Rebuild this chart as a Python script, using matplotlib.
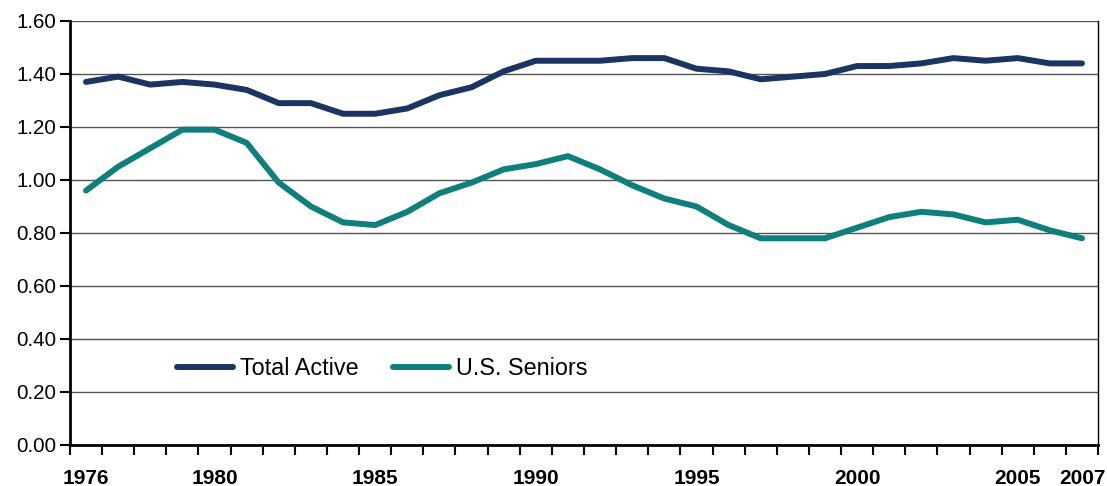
import matplotlib.pyplot as plt
import numpy as np

plt.rcParams['font.family'] = ['Liberation Sans', 'DejaVu Sans']

years = list(range(1976, 2008))
total_active = [1.37, 1.39, 1.36, 1.37, 1.36, 1.34, 1.29, 1.29, 1.25, 1.25,
                1.27, 1.32, 1.35, 1.41, 1.45, 1.45, 1.45, 1.46, 1.46, 1.42,
                1.41, 1.38, 1.39, 1.40, 1.43, 1.43, 1.44, 1.46, 1.45, 1.46,
                1.44, 1.44]
us_seniors = [0.96, 1.05, 1.12, 1.19, 1.19, 1.14, 0.99, 0.90, 0.84, 0.83,
              0.88, 0.95, 0.99, 1.04, 1.06, 1.09, 1.04, 0.98, 0.93, 0.90,
              0.83, 0.78, 0.78, 0.78, 0.82, 0.86, 0.88, 0.87, 0.84, 0.85,
              0.81, 0.78]
label_years = [1976, 1980, 1985, 1990, 1995, 2000, 2005, 2007]

fig = plt.figure(figsize=(11.07, 4.86), dpi=100)
ax = fig.add_axes([0.0632, 0.0844, 0.9287, 0.8724])

x = np.arange(len(years))
ax.plot(x, total_active, color='#1c3462', lw=4.3, label='Total Active', solid_capstyle='round')
ax.plot(x, us_seniors, color='#0f7f7b', lw=4.3, label='U.S. Seniors', solid_capstyle='round')

ax.set_xlim(-0.5, len(years) - 0.5)
ax.set_ylim(0, 1.6)
yt = np.arange(0, 1.61, 0.2)
ax.set_yticks(yt)
ax.set_yticklabels(['%.2f' % v for v in yt], fontsize=14.8)
ax.grid(axis='y', color='#555555', lw=1)
ax.set_axisbelow(True)

# tick marks between categories, labels at chosen years
ax.set_xticks(np.arange(-0.5, len(years)))
ax.set_xticklabels([])
ax.set_xticks([years.index(y) for y in label_years], minor=True)
ax.set_xticklabels([str(y) for y in label_years], minor=True, fontsize=15, fontweight='bold')
ax.tick_params(axis='x', which='major', length=7, width=1.5, direction='out')
ax.tick_params(axis='x', which='minor', length=0, pad=17)
ax.tick_params(axis='y', length=7, width=1.5, direction='out', pad=3)

ax.spines['left'].set_linewidth(2)
ax.spines['bottom'].set_linewidth(2)
ax.spines['top'].set_visible(False)
ax.spines['right'].set_linewidth(1)

ax.legend(loc='center left', bbox_to_anchor=(0.084, 0.181), ncol=2, frameon=False,
          fontsize=16.8, handlelength=2.4, columnspacing=1.45, handletextpad=0.3)

fig.savefig('out.png', dpi=100)
